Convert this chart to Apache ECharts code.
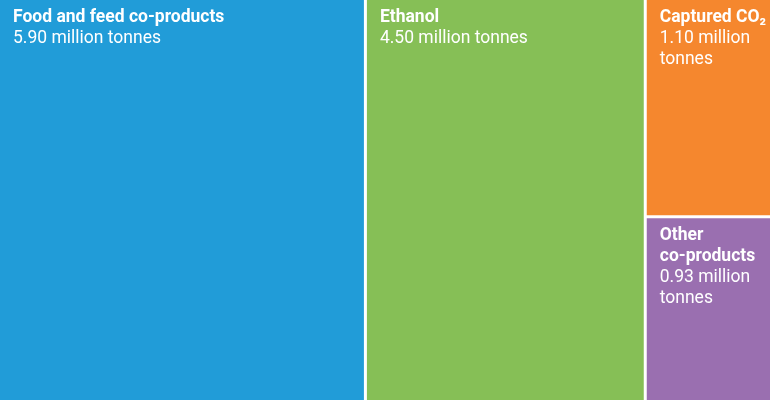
<!DOCTYPE html>
<html>
<head>
<meta charset="utf-8">
<script src="https://cdn.jsdelivr.net/npm/echarts@6/dist/echarts.min.js"></script>
<style>
html,body{margin:0;padding:0;background:#fff;}
#c{width:770px;height:400px;}
</style>
</head>
<body>
<div id="c"></div>
<script>
const categories = ['Food and feed co-products', 'Ethanol', 'Captured CO₂', 'Other co-products'];
const valuesMillionTonnes = [5.90, 4.50, 1.10, 0.93];
const unitText = 'million tonnes';
const colors = ['#219CD8', '#86BF56', '#F5872E', '#9A6FB0'];
// label wrapping for the narrow boxes (text layout only)
const nameLines = [['Food and feed co-products'], ['Ethanol'], ['Captured CO₂'], ['Other', 'co-products']];
const valueLines = [null, null, ['{v} million', 'tonnes'], ['{v} million', 'tonnes']];

const chart = echarts.init(document.getElementById('c'), null, {renderer: 'canvas'});
const data = categories.map((name, i) => ({
  name: name,
  value: valuesMillionTonnes[i],
  itemStyle: {color: colors[i]},
  label: {
    formatter: function (p) {
      const v = p.value.toFixed(2);
      const nm = nameLines[i].map(s => '{b|' + s + '}').join('\n');
      let vl;
      if (!valueLines[i]) {
        vl = ['{v|' + v + ' ' + unitText + '}'];
      } else {
        vl = valueLines[i].map(s => '{v|' + s.replace('{v}', v) + '}');
      }
      return nm + '\n' + vl.join('\n');
    }
  }
}));

chart.setOption({
  animation: false,
  series: [{
    type: 'treemap',
    left: 0, top: 0, right: 0, bottom: 0,
    width: '100%', height: '100%',
    roam: false,
    nodeClick: false,
    breadcrumb: {show: false},
    levels: [{
      itemStyle: {gapWidth: 3, borderWidth: 0, borderColor: '#fff'}
    }],
    itemStyle: {borderWidth: 0, gapWidth: 3, borderColor: '#fff'},
    label: {
      show: true,
      position: 'insideTopLeft',
      padding: [7, 6, 0, 13],
      overflow: 'none',
      fontFamily: 'Roboto',
      color: '#fff',
      rich: {
        b: {fontFamily: 'Roboto', fontWeight: 'bold', fontSize: 17.5, lineHeight: 21, color: '#fff'},
        v: {fontFamily: 'Roboto', fontSize: 17.5, lineHeight: 21, color: '#fff'}
      }
    },
    upperLabel: {show: false},
    data: data
  }]
});
</script>
</body>
</html>
